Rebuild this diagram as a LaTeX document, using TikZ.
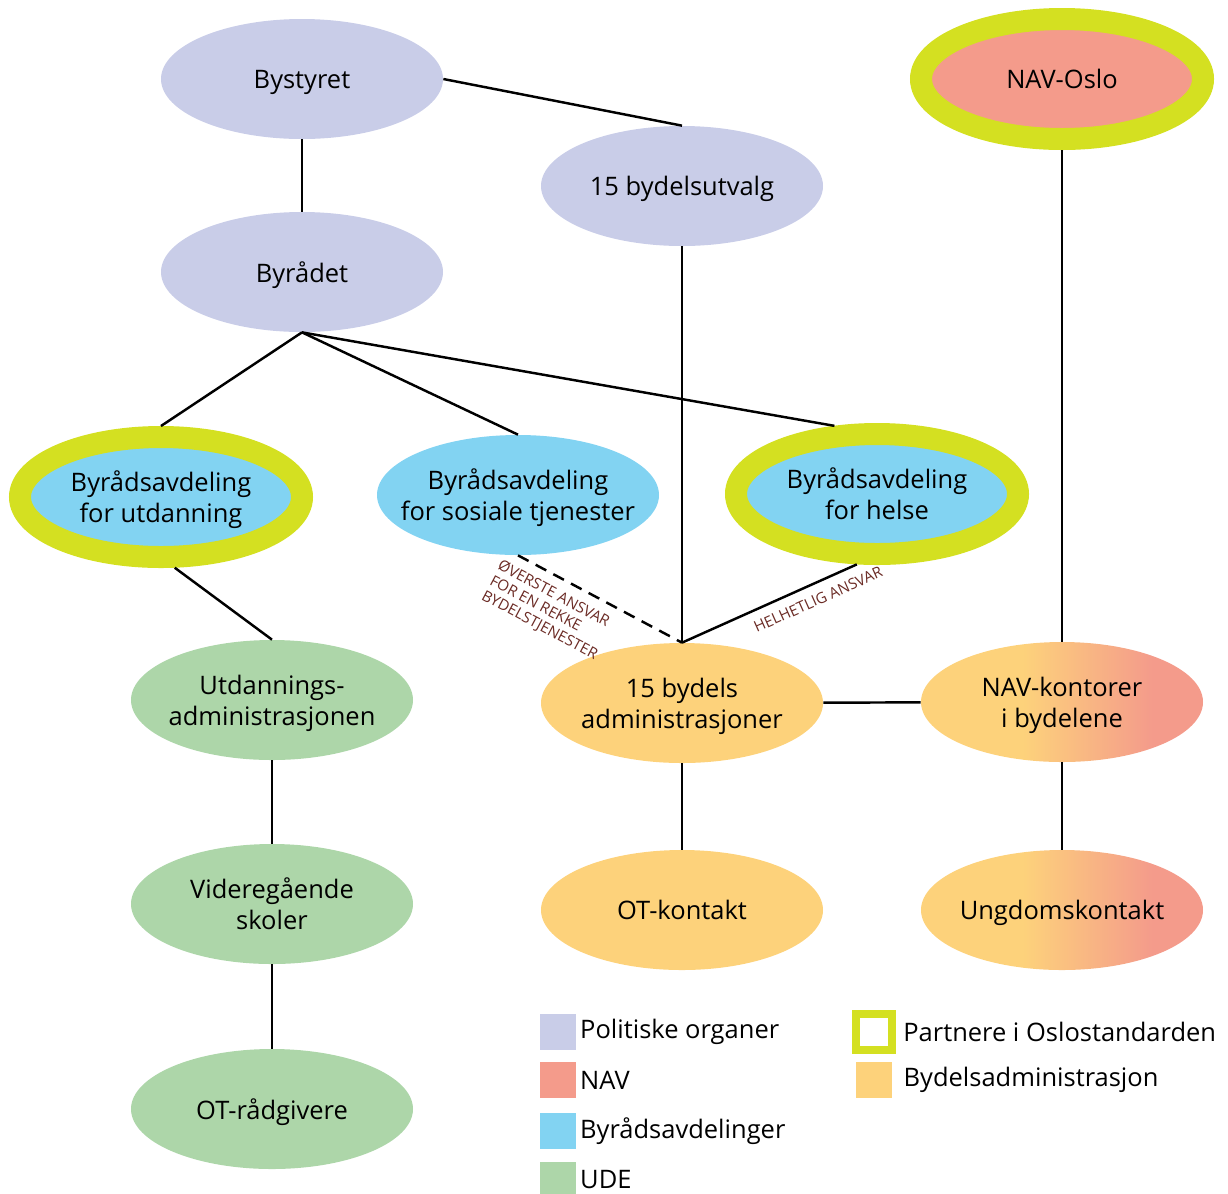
\documentclass[tikz,border=0pt]{standalone}
\usepackage{fontspec}
\setmainfont{Open Sans}
\usepackage{tikz}
\usetikzlibrary{shapes.geometric}
\usetikzlibrary{positioning}
\definecolor{politiskfarge}{HTML}{C9CDE8}
\definecolor{navfarge}{HTML}{F49B8B}
\definecolor{avdelingfarge}{HTML}{82D3F2}
\definecolor{udefarge}{HTML}{ADD6A9}
\definecolor{partnerfarge}{HTML}{D4E021}
\definecolor{bydelfarge}{HTML}{FDD27B}
\definecolor{ansvarfarge}{HTML}{6B2B25}
\pgfdeclarehorizontalshading{navshade}{100bp}{color(0bp)=(bydelfarge); color(43bp)=(bydelfarge); color(66bp)=(navfarge); color(100bp)=(navfarge)}
\tikzstyle{oval} = [ellipse, minimum width=5.64cm, minimum height=2.4cm, inner ysep=0pt, inner xsep=-0.45cm, text depth=0pt, text centered, align=center, font=\fontsize{14.5}{17.6}\selectfont]
\tikzstyle{politisk} = [oval, fill=politiskfarge]
\tikzstyle{avdeling} = [oval, fill=avdelingfarge]
\tikzstyle{ude} = [oval, fill=udefarge]
\tikzstyle{bydel} = [oval, fill=bydelfarge]
\tikzstyle{navbydel} = [oval, shading=navshade]
\tikzstyle{navoval} = [oval, fill=navfarge]
\tikzstyle{partner} = [draw=partnerfarge, line width=0.44cm]
\tikzstyle{line} = [line width=1.4pt]
\tikzstyle{dashline} = [line, dash pattern=on 0.24cm off 0.16cm]
\tikzstyle{ansvar} = [font=\fontsize{8.6}{9.8}\selectfont, text=ansvarfarge, sloped, align=left]
\tikzstyle{legendbox} = [rectangle, minimum size=0.72cm, inner sep=0pt]
\tikzstyle{legendtext} = [font=\fontsize{14.5}{17.6}\selectfont, inner sep=0pt]

\begin{document}
\begin{tikzpicture}[node distance=4cm]
            \useasboundingbox (0,0) rectangle (24.56,-23.86);
            \node (bystyret) [politisk] at (6.04,-1.58) {Bystyret};
            \node (byraadet) [politisk, below of=bystyret, yshift=0.14cm] {Byrådet};
            \node (bydelsutvalg) [politisk, right of=bystyret, xshift=3.6cm, yshift=-2.14cm] {15 bydelsutvalg};
            \node (navoslo) [navoval, partner, right of=bystyret, xshift=11.2cm] {NAV-Oslo};
            \node (utdanning) [avdeling, partner, below of=byraadet, yshift=-0.5cm, xshift=-2.82cm] {Byrådsavdeling\\for utdanning};
            \node (sosiale) [avdeling, below of=byraadet, yshift=-0.46cm, xshift=4.32cm] {Byrådsavdeling\\for sosiale tjenester};
            \node (helse) [avdeling, partner, below of=byraadet, yshift=-0.44cm, xshift=11.5cm] {Byrådsavdeling\\for helse};
            \node (udadm) [ude, below of=utdanning, yshift=-0.06cm, xshift=2.22cm] {Utdannings-\\administrasjonen};
            \node (vgs) [ude, below of=udadm, yshift=-0.08cm] {Videregående\\skoler};
            \node (otraad) [ude, below of=vgs, yshift=-0.1cm] {OT-rådgivere};
            \node (bydelsadm) [bydel, below of=bydelsutvalg, yshift=-6.34cm] {15 bydels\\administrasjoner};
            \node (otkontakt) [bydel, below of=bydelsadm, yshift=-0.14cm] {OT-kontakt};
            \node (navkontor) [navbydel, below of=navoslo, yshift=-8.46cm] {NAV-kontorer\\i bydelene};
            \node (ungdom) [navbydel, below of=navkontor, yshift=-0.16cm] {Ungdomskontakt};

            \draw[line] (bystyret.east) -- (bydelsutvalg.north);
            \draw[line] (bystyret) -- (byraadet);
            \draw[line] (byraadet.south) -- (utdanning.north);
            \draw[line] (byraadet.south) -- (sosiale.north);
            \draw[line] (byraadet.south) -- (helse.122);
            \draw[line] (bydelsutvalg) -- (bydelsadm);
            \draw[dashline] (sosiale.south) -- node[ansvar, pos=0.28, below=2pt] {ØVERSTE ANSVAR\\FOR EN REKKE\\BYDELSTJENESTER} (bydelsadm.north);
            \draw[line] (bydelsadm.north) -- node[ansvar, pos=0.74, below=2pt] {HELHETLIG ANSVAR} (helse.254);
            \draw[line] (bydelsadm) -- (navkontor);
            \draw[line] (navoslo) -- (navkontor);
            \draw[line] (utdanning.281) -- (udadm.north);
            \draw[line] (udadm) -- (vgs);
            \draw[line] (vgs) -- (otraad);
            \draw[line] (bydelsadm) -- (otkontakt);
            \draw[line] (navkontor) -- (ungdom);

            % tegnforklaring
            \node (legpolitisk) [legendbox, fill=politiskfarge] at (11.16,-20.64) {};
            \node (legnav) [legendbox, fill=navfarge, below of=legpolitisk, node distance=0.96cm] {};
            \node (legavdeling) [legendbox, fill=avdelingfarge, below of=legnav, node distance=1.02cm] {};
            \node (legude) [legendbox, fill=udefarge, below of=legavdeling, node distance=0.98cm] {};
            \node (legpartner) [legendbox, fill=white, draw=partnerfarge, line width=0.16cm] at (17.48,-20.64) {};
            \node (legbydel) [legendbox, fill=bydelfarge, below of=legpartner, node distance=0.96cm] {};
            \node (txtpolitisk) [legendtext, right=0.07cm of legpolitisk] {Politiske organer};
            \node (txtnav) [legendtext, right=0.07cm of legnav] {NAV};
            \node (txtavdeling) [legendtext, right=0.07cm of legavdeling] {Byrådsavdelinger};
            \node (txtude) [legendtext, right=0.07cm of legude] {UDE};
            \node (txtpartner) [legendtext, right=0.14cm of legpartner] {Partnere i Oslostandarden};
            \node (txtbydel) [legendtext, right=0.22cm of legbydel] {Bydelsadministrasjon};
        \end{tikzpicture}
\end{document}
